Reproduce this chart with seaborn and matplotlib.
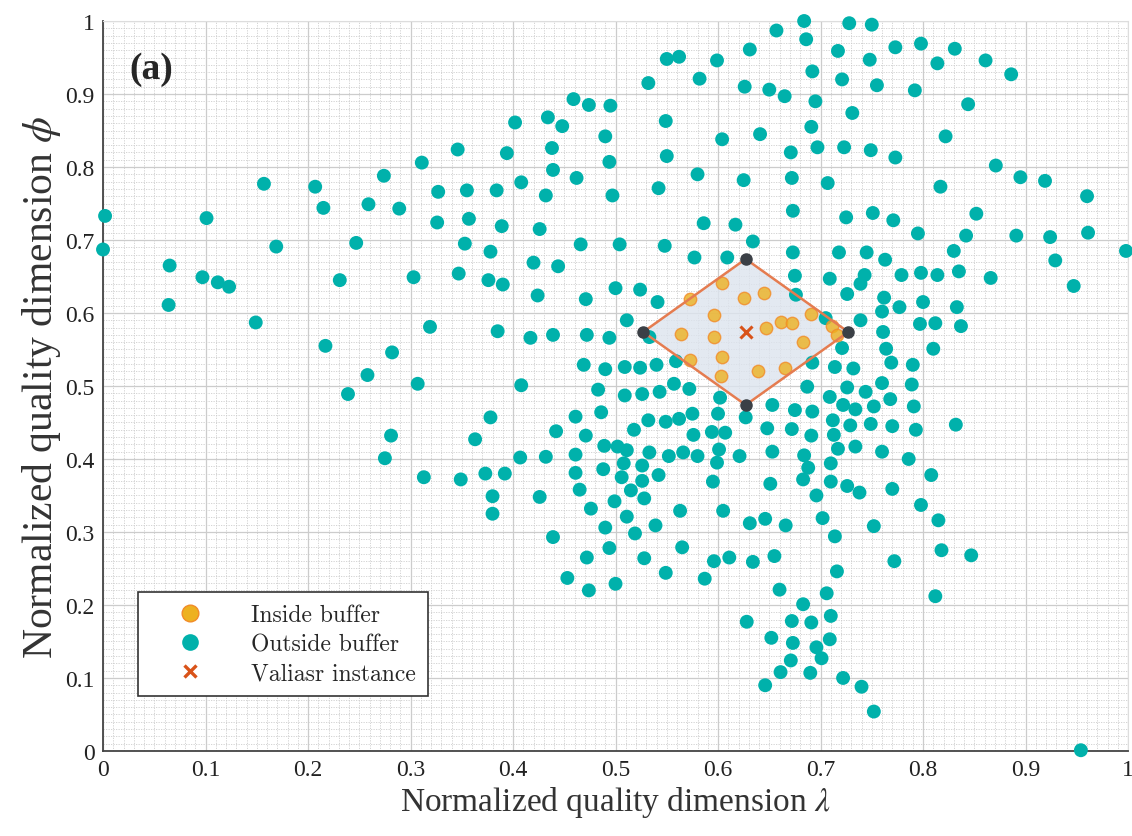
import numpy as np
import pandas as pd
import seaborn as sns
import matplotlib.pyplot as plt
from matplotlib.ticker import MultipleLocator
from matplotlib.patches import Polygon
from matplotlib.lines import Line2D

# points outside the buffer (lambda, phi)
outside_x = [0.157, 0.207, 0.215, 0.101, 0.002, 0.0, 0.169, 0.247, 0.065, 0.097, 0.112, 0.123, 0.064, 0.231, 0.149, 0.217, 0.239,
             0.459, 0.474, 0.495, 0.402, 0.434, 0.448, 0.490, 0.438, 0.346, 0.394, 0.494, 0.311, 0.439, 0.274, 0.462, 0.408,
             0.327, 0.355, 0.384, 0.432, 0.497, 0.259, 0.289, 0.326, 0.357, 0.389, 0.426, 0.353, 0.378, 0.466, 0.504, 0.420, 0.444,
             0.303, 0.347, 0.376, 0.390, 0.424, 0.471, 0.500, 0.319, 0.385, 0.417, 0.439, 0.472, 0.494, 0.282, 0.258, 0.307,
             0.408, 0.469, 0.490, 0.483, 0.486, 0.378, 0.461, 0.442, 0.471, 0.281, 0.363, 0.489, 0.275, 0.407, 0.432, 0.461,
             0.488, 0.461, 0.313, 0.349, 0.373, 0.392, 0.465, 0.380, 0.426, 0.476, 0.499, 0.380,
             0.490, 0.439, 0.494, 0.472, 0.453, 0.474, 0.500,
             0.684, 0.728, 0.750, 0.657, 0.686, 0.631, 0.717, 0.550, 0.562, 0.599, 0.748, 0.692, 0.721, 0.582, 0.532, 0.755,
             0.626, 0.650, 0.665, 0.695, 0.731, 0.549, 0.691, 0.641, 0.604, 0.550, 0.671, 0.697, 0.723, 0.749, 0.580, 0.625,
             0.672, 0.707, 0.542, 0.673, 0.725, 0.751, 0.586, 0.617, 0.634, 0.548, 0.673, 0.718, 0.745, 0.577, 0.609,
             0.773, 0.798, 0.831, 0.814, 0.861, 0.886, 0.792, 0.844, 0.822, 0.773, 0.871, 0.895, 0.919, 0.817, 0.960, 0.852,
             0.771, 0.795, 0.842, 0.891, 0.924, 0.961, 0.830, 0.998, 0.763, 0.929,
             0.779, 0.798, 0.814, 0.835, 0.866, 0.947, 0.762, 0.760, 0.777, 0.800, 0.833, 0.761, 0.797, 0.812, 0.837, 0.764,
             0.810, 0.769, 0.790, 0.760, 0.789, 0.768, 0.791, 0.770, 0.793, 0.832, 0.760, 0.786, 0.808, 0.770, 0.798,
             0.815, 0.818, 0.847, 0.772, 0.812, 0.954,
             0.511, 0.631, 0.646, 0.666, 0.702, 0.752, 0.519, 0.539, 0.714, 0.565, 0.528, 0.596, 0.611, 0.634, 0.655, 0.549,
             0.716, 0.587, 0.660, 0.706, 0.683, 0.710, 0.628, 0.672, 0.691, 0.652, 0.673, 0.709, 0.696, 0.701, 0.671, 0.661,
             0.690, 0.722, 0.740, 0.646, 0.752,
             0.675, 0.709, 0.743, 0.739, 0.524, 0.541, 0.676, 0.726, 0.511, 0.705, 0.739, 0.533, 0.559, 0.721, 0.692, 0.714,
             0.732, 0.509, 0.524, 0.540, 0.557, 0.572, 0.543, 0.509, 0.526, 0.602, 0.687, 0.726, 0.744, 0.709, 0.653, 0.722,
             0.734, 0.752, 0.675, 0.692, 0.575, 0.600, 0.627, 0.532, 0.549, 0.562, 0.518, 0.712, 0.729, 0.749, 0.648, 0.672,
             0.576, 0.594, 0.607, 0.691, 0.713, 0.502, 0.511, 0.533, 0.552, 0.566, 0.580, 0.601, 0.621, 0.653, 0.684, 0.717,
             0.734, 0.508, 0.526, 0.542, 0.599, 0.688, 0.710, 0.506, 0.526, 0.595, 0.651, 0.683, 0.710, 0.726, 0.738, 0.515,
             0.528, 0.696, 0.563, 0.605]
outside_y = [0.777, 0.773, 0.744, 0.730, 0.733, 0.687, 0.691, 0.696, 0.665, 0.649, 0.642, 0.636, 0.611, 0.645, 0.587, 0.555, 0.489,
             0.893, 0.885, 0.884, 0.861, 0.868, 0.856, 0.842, 0.826, 0.824, 0.819, 0.807, 0.806, 0.796, 0.788, 0.785, 0.779,
             0.766, 0.768, 0.768, 0.761, 0.761, 0.749, 0.743, 0.724, 0.729, 0.719, 0.715, 0.695, 0.684, 0.694, 0.694, 0.669, 0.664,
             0.649, 0.654, 0.645, 0.639, 0.624, 0.619, 0.634, 0.581, 0.575, 0.566, 0.570, 0.570, 0.566, 0.546, 0.515, 0.503,
             0.501, 0.529, 0.523, 0.495, 0.464, 0.457, 0.458, 0.438, 0.432, 0.432, 0.427, 0.418, 0.401, 0.402, 0.403, 0.406,
             0.386, 0.381, 0.375, 0.372, 0.380, 0.380, 0.358, 0.349, 0.348, 0.332, 0.342, 0.325,
             0.306, 0.293, 0.278, 0.265, 0.237, 0.220, 0.229,
             1.000, 0.997, 0.995, 0.987, 0.975, 0.961, 0.959, 0.948, 0.951, 0.946, 0.947, 0.931, 0.920, 0.921, 0.915, 0.912,
             0.910, 0.906, 0.897, 0.890, 0.874, 0.863, 0.855, 0.845, 0.838, 0.815, 0.820, 0.827, 0.827, 0.823, 0.790, 0.782,
             0.785, 0.778, 0.771, 0.740, 0.731, 0.737, 0.723, 0.721, 0.698, 0.692, 0.683, 0.683, 0.683, 0.676, 0.676,
             0.964, 0.969, 0.962, 0.942, 0.946, 0.927, 0.905, 0.886, 0.842, 0.813, 0.802, 0.786, 0.781, 0.773, 0.760, 0.736,
             0.727, 0.709, 0.706, 0.706, 0.704, 0.710, 0.685, 0.685, 0.673, 0.672,
             0.652, 0.655, 0.652, 0.657, 0.648, 0.637, 0.621, 0.602, 0.608, 0.615, 0.608, 0.574, 0.585, 0.586, 0.582, 0.551,
             0.551, 0.532, 0.529, 0.504, 0.502, 0.482, 0.472, 0.445, 0.440, 0.447, 0.410, 0.400, 0.378, 0.359, 0.337,
             0.316, 0.275, 0.268, 0.260, 0.212, 0.001,
             0.321, 0.312, 0.318, 0.309, 0.319, 0.308, 0.298, 0.309, 0.294, 0.279, 0.264, 0.260, 0.265, 0.259, 0.267, 0.244,
             0.246, 0.236, 0.221, 0.216, 0.201, 0.185, 0.177, 0.178, 0.176, 0.155, 0.148, 0.153, 0.142, 0.127, 0.124, 0.108,
             0.107, 0.100, 0.088, 0.090, 0.054,
             0.651, 0.647, 0.652, 0.640, 0.632, 0.615, 0.625, 0.626, 0.590, 0.593, 0.590, 0.567, 0.534, 0.552, 0.532, 0.526,
             0.524, 0.526, 0.525, 0.529, 0.503, 0.496, 0.492, 0.487, 0.489, 0.484, 0.499, 0.498, 0.492, 0.485, 0.474, 0.474,
             0.468, 0.472, 0.467, 0.465, 0.462, 0.462, 0.457, 0.453, 0.451, 0.455, 0.440, 0.453, 0.446, 0.448, 0.442, 0.441,
             0.433, 0.437, 0.436, 0.432, 0.433, 0.417, 0.412, 0.409, 0.404, 0.409, 0.404, 0.413, 0.404, 0.410, 0.405, 0.414,
             0.417, 0.394, 0.391, 0.378, 0.395, 0.388, 0.394, 0.375, 0.370, 0.369, 0.366, 0.372, 0.369, 0.363, 0.354, 0.357,
             0.346, 0.350, 0.329, 0.329]

# points inside the buffer
inside_x = [0.604, 0.645, 0.625, 0.573, 0.596, 0.691, 0.661, 0.672, 0.647, 0.711, 0.564, 0.596, 0.716, 0.683, 0.604,
            0.573, 0.639, 0.665, 0.603]
inside_y = [0.641, 0.627, 0.620, 0.619, 0.597, 0.599, 0.588, 0.586, 0.579, 0.582, 0.571, 0.567, 0.570, 0.560, 0.540,
            0.535, 0.521, 0.524, 0.513]

# Valiasr instance and buffer corners
instance_x = [0.627]
instance_y = [0.574]
buffer_x = [0.527, 0.627, 0.727, 0.627]
buffer_y = [0.574, 0.674, 0.574, 0.474]

teal = '#00b1ab'
orange = '#edb120'
red = '#d95319'

sns.set_style('white')
plt.rcParams['font.family'] = ['Liberation Serif', 'DejaVu Serif']
plt.rcParams['mathtext.fontset'] = 'stix'

fig = plt.figure(figsize=(11.32, 8.37), dpi=100)
ax = fig.add_axes([0.091, 0.1016, 0.9055, 0.8721])

outside = pd.DataFrame({'x': outside_x, 'y': outside_y})
inside = pd.DataFrame({'x': inside_x, 'y': inside_y})

# buffer diamond
ax.add_patch(Polygon(np.column_stack([buffer_x, buffer_y]), closed=True, facecolor='#dde4ee', edgecolor='none',
                     alpha=0.8, zorder=1.5))
sns.scatterplot(data=outside, x='x', y='y', s=100, color=teal, edgecolor='none', clip_on=False, zorder=3, ax=ax)
sns.scatterplot(data=inside, x='x', y='y', s=80, color=orange, edgecolor='#f28c28', linewidth=1, alpha=0.8,
                zorder=4, ax=ax)
ax.plot(buffer_x + buffer_x[:1], buffer_y + buffer_y[:1], color='#e57c50', lw=1.8, zorder=5)
ax.plot(buffer_x, buffer_y, 'o', color='#3b4046', ms=8, zorder=6)
ax.plot(instance_x, instance_y, 'x', color=red, ms=9, mew=2.2, zorder=6)

ax.set_xlim(0, 1)
ax.set_ylim(0, 1)
ticks = np.round(np.arange(0, 1.01, 0.1), 1)
tick_labels = ['0'] + [f'{t:.1f}' for t in ticks[1:-1]] + ['1']
ax.set_xticks(ticks)
ax.set_xticklabels(tick_labels)
ax.set_yticks(ticks)
ax.set_yticklabels(tick_labels)
ax.xaxis.set_minor_locator(MultipleLocator(0.01))
ax.yaxis.set_minor_locator(MultipleLocator(0.01))
ax.grid(which='major', color='#cccccc', lw=0.9, zorder=0)
ax.grid(which='minor', color='#cdcdcd', lw=0.6, ls=(0, (1.5, 1.5)), zorder=0)
ax.set_axisbelow(True)
ax.tick_params(which='major', direction='in', length=7, width=1.2, color='#333333', labelsize=17,
               labelcolor='#222222', pad=6)
ax.tick_params(which='minor', length=0)
for side in ['left', 'bottom']:
    ax.spines[side].set_color('#444444')
    ax.spines[side].set_linewidth(1.3)
for side in ['top', 'right']:
    ax.spines[side].set_color('#dddddd')

ax.set_xlabel('Normalized quality dimension $\\lambda$', fontsize=24, color='#333333', labelpad=3)
ax.set_ylabel('Normalized quality dimension $\\phi$', fontsize=30, color='#333333', labelpad=2)
ax.text(0.026, 0.935, '(a)', transform=ax.transAxes, fontsize=27, fontweight='bold', va='center')

handles = [
    Line2D([], [], ls='none', marker='o', ms=12, color=orange, mec='#f28c28', mew=1),
    Line2D([], [], ls='none', marker='o', ms=12, color=teal, mec='none'),
    Line2D([], [], ls='none', marker='x', ms=9, color=red, mew=2.4),
]
leg = ax.legend(handles, ['Inside buffer', 'Outside buffer', 'Valiasr instance'], loc='lower left',
                bbox_to_anchor=(0.034, 0.075), prop={'family': 'cmr10', 'size': 17}, frameon=True,
                fancybox=False, edgecolor='#333333', framealpha=1, borderpad=0.5, labelspacing=0.3,
                handlelength=3.4, handletextpad=0.9, borderaxespad=0)
leg.get_frame().set_linewidth(1.2)

fig.savefig('out.png', dpi=100)
